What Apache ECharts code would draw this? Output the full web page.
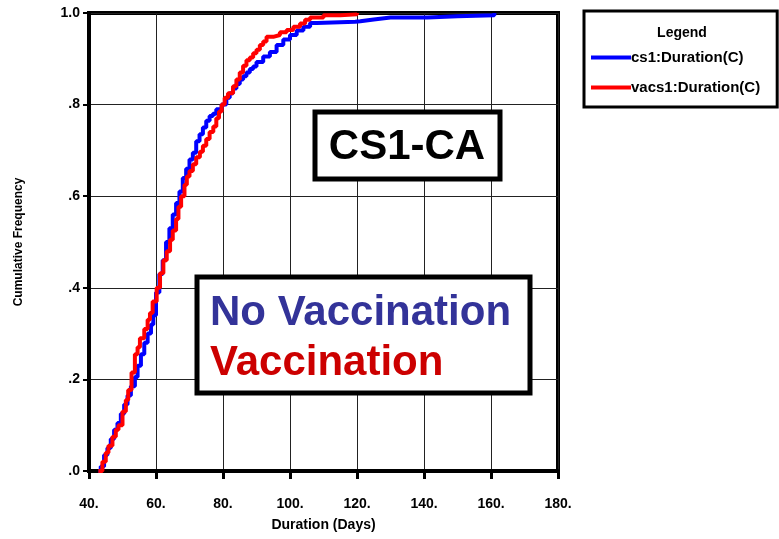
<!DOCTYPE html>
<html><head><meta charset="utf-8">
<script src="https://cdn.jsdelivr.net/npm/echarts@6/dist/echarts.min.js"></script>
<style>html,body{margin:0;padding:0;background:#fff}#c{width:779px;height:539px}</style>
</head><body><div id="c"></div>
<script>
var xTicks = [40, 60, 80, 100, 120, 140, 160, 180];
var yTicks = [0, 0.2, 0.4, 0.6, 0.8, 1.0];
var seriesNames = ['cs1:Duration(C)', 'vacs1:Duration(C)'];
var cs1Days = [42.8,43.5,44.5,45.5,46.5,47.5,48.5,49.5,50.5,51.5,52.5,53.7,54.5,55.5,56.5,57.5,58.5,59.2,60,61,62,63,64,65,66,67,68,69,70,71,72,73,74,75,76,77,78,79.6,81,82,83,84,85,86,87,88,89,90,92,94,96,98,100,102,104,106,108,119.5,121,125,130,141,150,161];
var cs1Freq = [0,0.01,0.035,0.05,0.07,0.09,0.105,0.125,0.145,0.165,0.185,0.205,0.23,0.255,0.28,0.3,0.32,0.34,0.39,0.43,0.46,0.5,0.53,0.56,0.585,0.61,0.64,0.66,0.68,0.695,0.72,0.735,0.75,0.765,0.775,0.78,0.79,0.8,0.815,0.825,0.835,0.845,0.855,0.862,0.87,0.878,0.883,0.893,0.905,0.915,0.93,0.942,0.952,0.962,0.97,0.978,0.981,0.982,0.986,0.99,0.99,0.993,0.995,1.0];
var vacs1Days = [42.8,44,45,45.8,47,48,48.8,50,51,51.7,52.7,53.7,54.5,55.2,56.5,57.5,58.2,59,60.2,61.2,62.2,63.2,64.2,65,66,66.7,67.5,68.5,69.2,70,71,72,73.1,74,75,76,77.1,78,78.8,79.6,80.5,81.5,83,84,85,86,87,88,89,90,91,92,93,95,97,99,101,103,104.5,106,110,115,120];
var vacs1Freq = [0,0.02,0.04,0.055,0.075,0.09,0.1,0.13,0.155,0.177,0.215,0.255,0.27,0.29,0.31,0.33,0.345,0.37,0.4,0.432,0.46,0.48,0.505,0.525,0.55,0.577,0.6,0.625,0.643,0.655,0.67,0.685,0.697,0.71,0.725,0.74,0.752,0.77,0.785,0.8,0.815,0.825,0.84,0.855,0.87,0.885,0.897,0.903,0.912,0.92,0.93,0.938,0.948,0.952,0.958,0.963,0.97,0.977,0.985,0.99,0.995,0.997,1.0];

function pairs(xs, ys){ return xs.map(function(x,i){ return [x, ys[i]]; }); }
var F = 'Liberation Sans, Arial, sans-serif';
var chart = echarts.init(document.getElementById('c'));
chart.setOption({
  animation: false,
  backgroundColor: '#fff',
  grid: {left: 89, right: 221, top: 13, bottom: 68, show: true, borderColor: '#000', borderWidth: 4, backgroundColor: 'transparent'},
  xAxis: {
    type: 'value', min: xTicks[0], max: xTicks[xTicks.length-1], interval: 20,
    name: 'Duration (Days)', nameLocation: 'middle', nameGap: 47,
    nameTextStyle: {fontFamily: F, fontWeight: 'bold', fontSize: 14, color: '#000'},
    axisLine: {show: true, lineStyle: {color: '#000', width: 4}},
    axisTick: {show: true, inside: false, length: 8, lineStyle: {color: '#000', width: 3}},
    axisLabel: {fontFamily: F, fontWeight: 'bold', fontSize: 14, color: '#000', margin: 26, formatter: function(v){ return v + '.'; }},
    splitLine: {show: true, lineStyle: {color: '#222', width: 1}}
  },
  yAxis: {
    type: 'value', min: 0, max: 1, interval: 0.2,
    name: 'Cumulative Frequency', nameLocation: 'middle', nameGap: 64, nameRotate: 90,
    nameTextStyle: {fontFamily: F, fontWeight: 'bold', fontSize: 12, color: '#000'},
    axisLine: {show: true, lineStyle: {color: '#000', width: 4}},
    axisTick: {show: true, inside: false, length: 6, lineStyle: {color: '#000', width: 2}},
    axisLabel: {fontFamily: F, fontWeight: 'bold', fontSize: 14, color: '#000', margin: 9,
      formatter: function(v){ return v >= 1 ? '1.0' : '.' + Math.round(v*10); }},
    splitLine: {show: true, lineStyle: {color: '#222', width: 1}}
  },
  legend: {
    orient: 'vertical', left: 584, top: 11,
    padding: [39, 17, 12, 7], itemGap: 15,
    borderColor: '#000', borderWidth: 3, backgroundColor: '#fff',
    itemWidth: 40, itemHeight: 4, icon: 'rect',
    textStyle: {fontFamily: F, fontWeight: 'bold', fontSize: 15, color: '#000', padding: [0,0,0,-5]},
    data: seriesNames
  },
  series: [
    {name: seriesNames[0], type: 'line', step: 'end', showSymbol: false, symbol: 'none',
     color: '#0000ff', lineStyle: {color: '#0000ff', width: 4}, data: pairs(cs1Days, cs1Freq), z: 3},
    {name: seriesNames[1], type: 'line', step: 'end', showSymbol: false, symbol: 'none',
     color: '#ff0000', lineStyle: {color: '#ff0000', width: 4}, data: pairs(vacs1Days, vacs1Freq), z: 4}
  ],
  graphic: [
    {type: 'text', x: 682, y: 33, z: 100, style: {text: 'Legend', font: 'bold 14px ' + F, fill: '#000', align: 'center', verticalAlign: 'middle'}},
    {type: 'rect', shape: {x: 315, y: 112, width: 185, height: 67}, z: 100,
     style: {fill: '#fff', stroke: '#000', lineWidth: 5}},
    {type: 'text', x: 407, y: 147, z: 101, style: {text: 'CS1-CA', font: 'bold 42px ' + F, fill: '#000', align: 'center', verticalAlign: 'middle'}},
    {type: 'rect', shape: {x: 197, y: 277, width: 333, height: 116}, z: 100,
     style: {fill: '#fff', stroke: '#000', lineWidth: 5}},
    {type: 'text', x: 210, y: 313, z: 101, style: {text: 'No Vaccination', font: 'bold 42px ' + F, fill: '#333399', align: 'left', verticalAlign: 'middle'}},
    {type: 'text', x: 210, y: 363, z: 101, style: {text: 'Vaccination', font: 'bold 42px ' + F, fill: '#cc0000', align: 'left', verticalAlign: 'middle'}}
  ]
});
</script></body></html>
